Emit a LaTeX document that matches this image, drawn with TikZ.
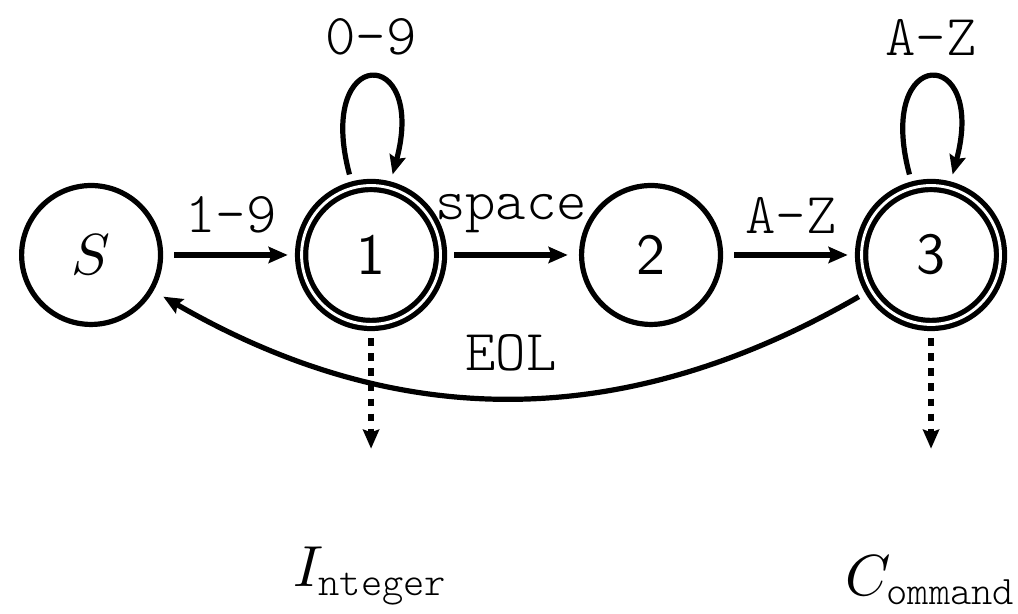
\documentclass[tikz,border=0pt]{standalone}
\usepackage{amsmath}
\usepackage{tikz}
\usetikzlibrary{positioning,arrows.meta}

\newcommand{\tok}[1]{{\ttfamily\fontseries{l}\selectfont #1}}

\begin{document}
\begin{tikzpicture}[
        state/.style={circle, draw=black, line width=0.9pt, minimum size=24pt, inner sep=0pt, outer sep=2.4pt, font=\sffamily},
        final/.style={state, double, double distance=0.5pt},
        trans/.style={line width=0.9pt, -{Stealth[length=3.3pt, width=2.8pt, inset=0.5pt]}},
        exit/.style={trans, dash pattern=on 1.3pt off 1.3pt},
        sym/.style={font=\ttfamily\fontseries{l}\selectfont}
    ]
        \useasboundingbox (-0.553,-2.174) rectangle (5.628,1.548);

        % States
        \node[state] (S) at (0, 0) {$S$};
        \node[final] (1) at (1.7, 0) {1};
        \node[state] (2) at (3.4, 0) {2};
        \node[final] (3) at (5.1, 0) {3};

        % Transitions
        \draw[trans] (S) -- node[sym, above] (lbl19) {1-9} (1);
        \draw[trans] (1) -- node[sym, above] (lblsp) {space} (2);
        \draw[trans] (2) -- node[sym, above] (lblaz) {A-Z} (3);
        \draw[trans] (1) to[loop above] node[sym, above] (lbl09) {0-9} ();
        \draw[trans] (3) to[loop above] node[sym, above] (lblaz2) {A-Z} ();
        \draw[trans] (3) to[bend left=30] node[sym, above=1pt] (lbleol) {EOL} (S);

        % Token outputs
        \coordinate[below=0.67cm of 1] (intend);
        \coordinate[below=0.67cm of 3] (cmdend);
        \draw[exit] (1) -- (intend);
        \draw[exit] (3) -- (cmdend);
        \node[above, inner sep=0pt] (intname) at (1.7, -2.13) {$I_{\text{\tok{nteger}}}$};
        \node[above, inner sep=0pt] (cmdname) at (5.1, -2.13) {$C_{\text{\tok{ommand}}}$};
    \end{tikzpicture}
\end{document}
